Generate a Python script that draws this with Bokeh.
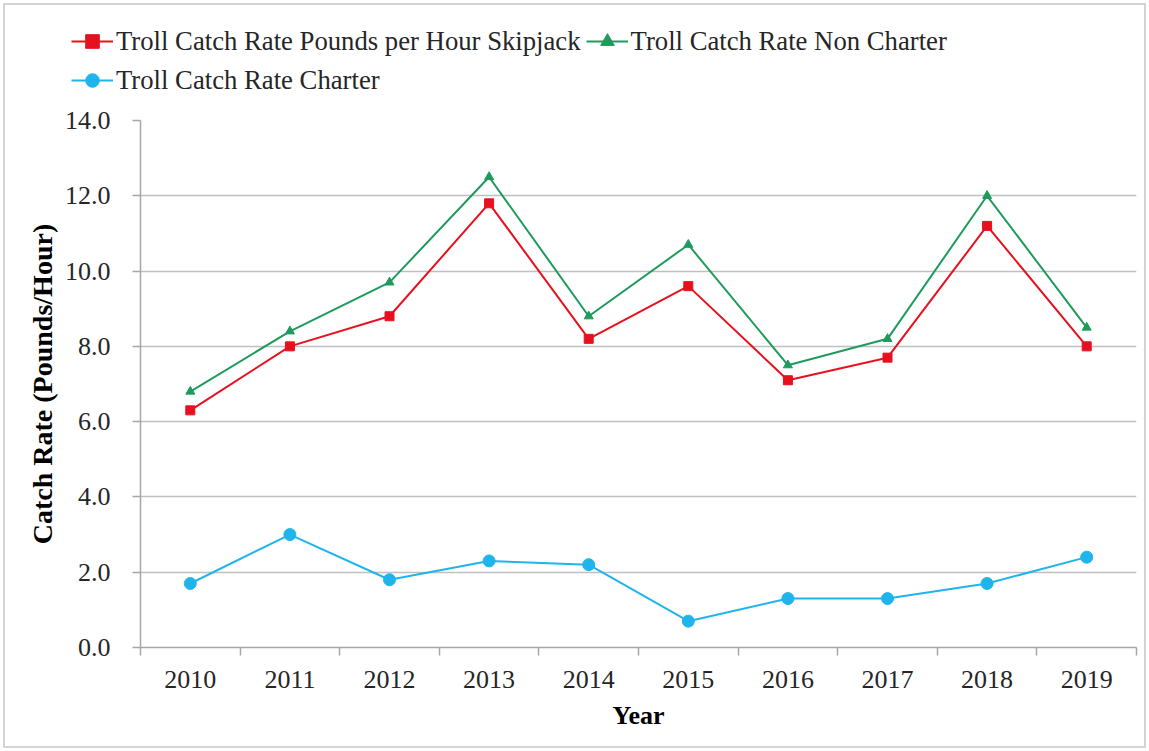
from bokeh.plotting import figure
from bokeh.layouts import column
from bokeh.models import (Range1d, FixedTicker, NumeralTickFormatter, Legend, LegendItem)
from bokeh.embed import file_html
from bokeh.resources import INLINE

years = [2010, 2011, 2012, 2013, 2014, 2015, 2016, 2017, 2018, 2019]
skipjack = [6.3, 8.0, 8.8, 11.8, 8.2, 9.6, 7.1, 7.7, 11.2, 8.0]
non_charter = [6.8, 8.4, 9.7, 12.5, 8.8, 10.7, 7.5, 8.2, 12.0, 8.5]
charter = [1.7, 3.0, 1.8, 2.3, 2.2, 0.7, 1.3, 1.3, 1.7, 2.4]
y_ticks = [0, 2, 4, 6, 8, 10, 12, 14]

series = [
    ("Troll Catch Rate Pounds per Hour Skipjack", skipjack, "#E8101E", "square", 9),
    ("Troll Catch Rate Non Charter", non_charter, "#1E9B5C", "triangle", 9),
    ("Troll Catch Rate Charter", charter, "#1FB5EC", "circle", 12),
]
FONT = "Liberation Serif"
W = 1139

# main chart
p = figure(width=W, height=646, output_backend="svg", toolbar_location=None,
           x_range=Range1d(years[0] - 0.5, years[-1] + 0.5),
           y_range=Range1d(0, 14),
           min_border_left=135, min_border_right=8, min_border_top=20,
           min_border_bottom=99)
p.outline_line_color = None
p.background_fill_color = "white"
p.border_fill_color = "white"

for name, vals, color, marker, size in series:
    p.line(years, vals, color=color, line_width=2)
    p.scatter(years, vals, marker=marker, size=size, color=color)

# y axis
p.yaxis.ticker = FixedTicker(ticks=y_ticks)
p.yaxis.formatter = NumeralTickFormatter(format="0.0")
p.yaxis.axis_label = "Catch Rate (Pounds/Hour)"
p.yaxis.major_tick_out = 8
p.yaxis.major_tick_in = 0
p.yaxis.minor_tick_out = 0
p.yaxis.minor_tick_in = 0
p.yaxis.major_label_standoff = 22
p.yaxis.axis_label_standoff = 4
p.yaxis.axis_label_text_font_size = "28px"

# x axis: labels at the year centres, tick marks between years
boundaries = [y + 0.5 for y in [years[0] - 1] + years]
p.xaxis.ticker = FixedTicker(ticks=years, minor_ticks=boundaries)
p.xaxis.axis_label = "Year"
p.xaxis.major_tick_out = 0
p.xaxis.major_tick_in = 0
p.xaxis.minor_tick_out = 8
p.xaxis.minor_tick_in = 0
p.xaxis.major_label_standoff = 15
p.xaxis.axis_label_standoff = 10
p.xaxis.axis_label_text_font_size = "26px"

for ax in (p.xaxis[0], p.yaxis[0]):
    ax.axis_line_color = "#A6A6A6"
    ax.axis_line_width = 1.5
    ax.major_tick_line_color = "#A6A6A6"
    ax.minor_tick_line_color = "#A6A6A6"
    ax.major_tick_line_width = 1.5
    ax.minor_tick_line_width = 1.5
    ax.major_label_text_font = FONT
    ax.major_label_text_font_size = "26px"
    ax.major_label_text_color = "#262626"
    ax.axis_label_text_font = FONT
    ax.axis_label_text_font_style = "bold"
    ax.axis_label_text_color = "#000000"

p.xgrid.grid_line_color = None
p.ygrid.grid_line_color = "#BFBFBF"
p.ygrid.grid_line_width = 1.5

# legend strip above the chart
lg = figure(width=W, height=95, output_backend="svg", toolbar_location=None,
            x_range=Range1d(0, 1), y_range=Range1d(0, 1),
            x_axis_type=None, y_axis_type=None,
            min_border_left=0, min_border_right=0, min_border_top=0,
            min_border_bottom=0)
lg.outline_line_color = None
lg.xgrid.visible = False
lg.ygrid.visible = False
items = []
for name, vals, color, marker, size in series:
    ln = lg.line(years, vals, color=color, line_width=2)
    mk = lg.scatter(years, vals, marker=marker, size=size - 3, color=color)
    items.append(LegendItem(label=name, renderers=[ln, mk]))

legend = Legend(items=items, location=(66, 3), orientation="horizontal", ncols=2)
legend.label_text_font = FONT
legend.label_text_font_size = "26.7px"
legend.label_text_color = "#262626"
legend.glyph_width = 42
legend.glyph_height = 34
legend.label_height = 34
legend.label_standoff = 3
legend.spacing = 5
legend.padding = 0
legend.margin = 0
legend.border_line_color = None
legend.background_fill_alpha = 0
lg.add_layout(legend, "center")

# separate wrappers so the legend strip keeps its own full-width frame
page = column(column(lg), column(p), spacing=0)
page.styles = {"border": "2px solid #D4D4D4", "margin": "3px"}

open("out.html", "w").write(file_html(page, INLINE))
